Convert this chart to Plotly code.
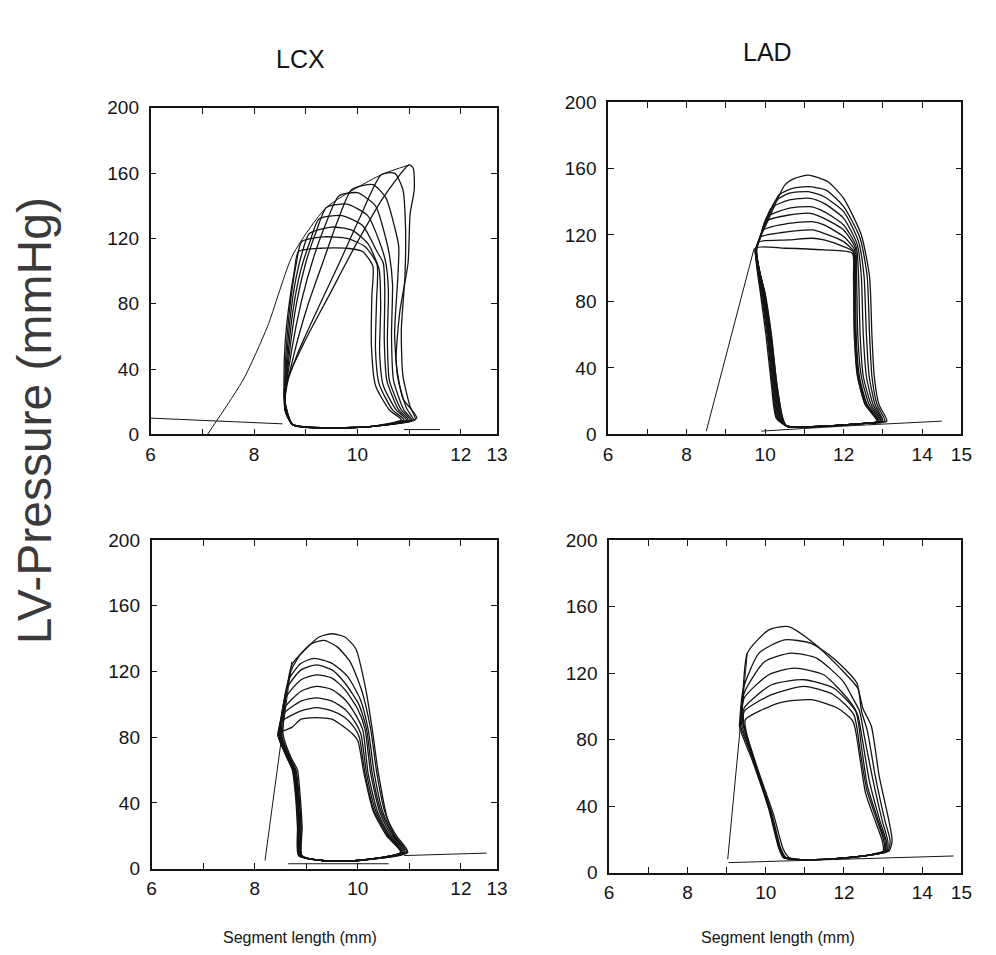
import plotly.graph_objects as go

# ---------------- DATA ----------------
# Top-left (LCX, upper) pressure-length loops
tl_loops_x = [
    [10.85,10.62,10.35,10.27,10.28,10.3,10.1,9.8,9.3,8.86,8.78,8.68,8.6,8.58,8.6,8.75,9.5,10.3,10.85],
    [10.9,10.68,10.42,10.35,10.37,10.38,10.15,9.8,9.35,8.92,8.82,8.72,8.64,8.6,8.6,8.75,9.5,10.3,10.9],
    [10.95,10.75,10.5,10.43,10.45,10.42,10.2,9.9,9.5,9.07,8.92,8.78,8.68,8.62,8.6,8.75,9.5,10.3,10.95],
    [10.98,10.8,10.57,10.52,10.53,10.5,10.38,10.1,9.7,9.26,9.08,8.9,8.75,8.65,8.6,8.75,9.5,10.3,10.98],
    [11.02,10.85,10.62,10.58,10.6,10.55,10.45,10.2,9.8,9.4,9.2,9.0,8.82,8.68,8.6,8.75,9.5,10.3,11.02],
    [11.05,10.9,10.7,10.66,10.68,10.62,10.55,10.35,10.0,9.64,9.4,9.15,8.92,8.72,8.6,8.75,9.5,10.3,11.05],
    [11.08,10.95,10.78,10.72,10.78,10.8,10.72,10.55,10.3,9.89,9.62,9.35,9.05,8.78,8.6,8.75,9.5,10.3,11.08],
    [11.12,11.02,10.88,10.85,10.92,10.93,10.88,10.72,10.46,10.05,9.65,9.25,8.85,8.58,8.75,9.5,10.3,11.12],
    [11.15,10.88,10.75,10.82,10.98,11.02,11.1,11.08,11.0,10.5,9.95,9.45,8.95,8.58,8.75,9.5,10.3,11.15],
]
tl_loops_y = [
    [9,15,30,55,85,103,112,114,114,112,100,80,55,30,15,6,4,5,9],
    [9,15,31,52,82,104,115,120,121,118,105,85,60,35,15,6,4,5,9],
    [9,15,30,50,78,101,117,125,127,123,110,90,65,38,15,6,4,5,9],
    [9,15,33,58,88,105,112,128,134,132,118,100,75,45,15,6,4,5,9],
    [9,15,33,58,88,105,116,134,141,139,124,105,80,48,17,6,4,5,9],
    [9,15,33,60,92,110,120,140,148,146,130,108,82,50,19,6,4,5,9],
    [9,16,35,62,95,115,127,145,153,150,131,107,80,50,21,6,4,5,9],
    [9,17,36,64,97,128,150,160,159,133,105,78,50,24,6,4,5,9],
    [10,22,45,75,105,135,150,163,165,145,115,85,55,27,6,4,5,10],
]
tl_espvr_x = [7.1, 7.8, 8.26, 8.75, 9.4, 10.46, 11.0]
tl_espvr_y = [0, 34, 66, 110, 139, 159, 165]
tl_edpvr_x = [6.0, 8.55]
tl_edpvr_y = [10, 6.5]
tl_base_x = [10.9, 11.6]
tl_base_y = [3, 3]

# Top-right (LAD, upper)
tr_loops_x = [
    [13.1,12.9,12.78,12.72,12.66,12.45,12.0,11.6,11.1,10.75,10.5,10.1,9.76,9.88,10.02,10.16,10.28,10.55,11.5,12.4,13.1],
    [13.05,12.85,12.72,12.66,12.6,12.42,12.0,11.55,11.1,10.7,10.35,10.0,9.76,9.9,10.05,10.18,10.3,10.55,11.5,12.4,13.05],
    [13.0,12.8,12.65,12.58,12.52,12.38,12.0,11.5,11.1,10.6,10.25,9.95,9.77,9.92,10.07,10.2,10.32,10.55,11.5,12.4,13.0],
    [12.98,12.75,12.58,12.5,12.45,12.35,12.0,11.5,11.15,10.6,10.15,9.92,9.78,9.93,10.09,10.22,10.34,10.55,11.5,12.4,12.98],
    [12.95,12.7,12.5,12.42,12.38,12.32,12.0,11.5,11.15,10.6,10.05,9.9,9.78,9.95,10.1,10.24,10.36,10.55,11.5,12.4,12.95],
    [12.93,12.65,12.45,12.36,12.33,12.3,12.0,11.5,11.15,10.6,10.0,9.88,9.78,9.96,10.12,10.26,10.38,10.55,11.5,12.4,12.93],
    [12.9,12.6,12.4,12.32,12.3,12.28,12.0,11.5,11.2,10.6,9.95,9.85,9.77,9.97,10.13,10.27,10.4,10.55,11.5,12.4,12.9],
    [12.88,12.58,12.38,12.3,12.28,12.26,12.0,11.5,11.2,10.6,9.9,9.82,9.76,9.98,10.14,10.28,10.42,10.55,11.5,12.4,12.88],
    [12.86,12.55,12.36,12.28,12.26,12.24,12.0,11.5,11.2,10.6,9.85,9.8,9.75,9.99,10.15,10.3,10.44,10.55,11.5,12.4,12.86],
    [12.85,12.55,12.35,12.27,12.25,12.22,11.5,10.5,9.75,10.0,10.16,10.3,10.45,10.55,11.5,12.4,12.85],
]
tr_loops_y = [
    [8,18,35,60,95,120,142,152,156,154,150,130,111,85,60,30,10,5,5,6.5,8],
    [8,18,35,60,95,118,137,147,149,148,144,126,111,85,60,30,10,5,5,6.5,8],
    [8,18,35,60,95,116,134,143,146,145,140,124,111,85,60,30,10,5,5,6.5,8],
    [8,18,35,60,95,114,130,139,142,141,136,122,111,85,60,30,10,5,5,6.5,8],
    [8,18,35,60,95,113,126,134,137,136,131,120,111,85,60,30,10,5,5,6.5,8],
    [8,18,35,60,95,112,123,130,133,132,128,119,111,85,60,30,10,5,5,6.5,8],
    [8,18,35,60,95,111,119,126,128,127,123,117,111,85,60,30,10,5,5,6.5,8],
    [8,18,35,60,95,110,116,121,123,122,119,115,111,85,60,30,10,5,5,6.5,8],
    [8,18,35,60,95,110,113,117,118,117,116,114,111,85,60,30,10,5,5,6.5,8],
    [8,18,35,60,95,109,111,112,112,85,60,30,10,5,5,6.5,8],
]
tr_espvr_x = [8.5, 9.72]
tr_espvr_y = [2, 112]
tr_edpvr_x = [9.9, 12.0, 14.5]
tr_edpvr_y = [2, 5, 8]

# Bottom-left (LCX, lower)
bl_loops_x = [
    [10.97,10.75,10.58,10.4,10.28,10.15,9.96,9.75,9.5,9.25,9.0,8.72,8.55,8.7,8.83,8.88,8.92,8.92,9.3,10.0,10.97],
    [10.95,10.72,10.52,10.37,10.25,10.08,9.85,9.6,9.35,9.1,8.9,8.7,8.52,8.68,8.8,8.86,8.9,8.9,9.3,10.0,10.95],
    [10.92,10.7,10.48,10.32,10.2,10.05,9.8,9.5,9.15,8.9,8.66,8.5,8.67,8.79,8.85,8.9,8.9,9.3,10.0,10.92],
    [10.9,10.68,10.45,10.28,10.17,10.02,9.75,9.5,9.2,8.9,8.63,8.5,8.66,8.78,8.84,8.88,8.9,9.3,10.0,10.9],
    [10.88,10.65,10.42,10.25,10.14,10.0,9.75,9.5,9.2,8.9,8.6,8.48,8.65,8.77,8.83,8.87,8.89,9.3,10.0,10.88],
    [10.86,10.62,10.38,10.2,10.1,9.97,9.75,9.5,9.2,8.9,8.58,8.47,8.64,8.76,8.82,8.86,8.88,9.3,10.0,10.86],
    [10.85,10.6,10.35,10.17,10.06,9.95,9.75,9.5,9.2,8.9,8.55,8.46,8.63,8.75,8.81,8.85,8.87,9.3,10.0,10.85],
    [10.84,10.58,10.32,10.14,10.03,9.93,9.75,9.5,9.2,8.9,8.54,8.45,8.62,8.74,8.8,8.84,8.86,9.3,10.0,10.84],
    [10.83,10.56,10.3,10.12,10.0,9.9,9.7,9.5,9.2,8.9,8.72,8.45,8.62,8.73,8.79,8.83,8.85,9.3,10.0,10.83],
]
bl_loops_y = [
    [10,20,30,58,85,110,134,141,143,141,134,124,82,68,60,45,25,8,5,5,10],
    [10,20,35,58,85,108,126,135,139,137,131,120,82,68,60,45,25,8,5,5,10],
    [10,20,35,58,85,103,117,125,128,125,115,82,68,60,45,25,8,5,5,10],
    [10,20,35,58,85,100,113,121,124,121,110,82,68,60,45,25,8,5,5,10],
    [10,20,35,58,85,97,109,116,118,115,104,82,68,60,45,25,8,5,5,10],
    [10,20,35,58,84,93,103,109,111,108,98,82,68,60,45,25,8,5,5,10],
    [10,20,35,58,82,89,97,102,104,102,94,82,68,60,45,25,8,5,5,10],
    [10,20,35,58,80,86,92,96,98,96,90,82,68,60,45,25,8,5,5,10],
    [10,20,35,58,78,82,87,91,92,91,86,82,68,60,45,25,8,5,5,10],
]
bl_espvr_x = [8.2, 8.72]
bl_espvr_y = [5, 126]
bl_edpvr_x = [10.9, 12.5]
bl_edpvr_y = [8, 9.5]
bl_base_x = [8.65, 10.6]
bl_base_y = [3, 3]

# Bottom-right (LAD, lower)
br_loops_x = [
    [13.15,13.23,13.15,12.9,12.7,12.48,12.35,11.9,11.23,10.58,10.08,9.53,9.4,9.33,9.65,10.08,10.33,10.45,10.75,11.5,12.5,13.15],
    [13.12,13.18,13.05,12.8,12.6,12.45,12.33,11.73,11.15,10.48,9.83,9.43,9.35,9.36,9.68,10.1,10.35,10.5,10.75,11.5,12.5,13.12],
    [13.1,13.12,12.98,12.72,12.52,12.4,12.2,11.98,11.3,10.65,9.98,9.45,9.38,9.65,10.08,10.33,10.47,10.75,11.5,12.5,13.1],
    [13.08,13.08,12.92,12.65,12.47,12.35,12.15,11.48,10.73,10.08,9.45,9.4,9.7,10.1,10.35,10.5,10.75,11.5,12.5,13.08],
    [13.05,13.05,12.88,12.6,12.45,12.3,11.73,10.98,10.15,9.45,9.42,9.72,10.12,10.36,10.5,10.75,11.5,12.5,13.05],
    [13.03,13.02,12.85,12.58,12.42,12.25,11.73,10.98,10.15,9.45,9.45,9.76,10.15,10.38,10.52,10.75,11.5,12.5,13.03],
    [13.0,12.98,12.8,12.55,12.4,12.23,11.83,11.15,10.33,9.48,9.5,9.8,10.2,10.45,10.6,10.8,11.5,12.5,13.0],
]
br_loops_y = [
    [13,19,31,58,88,99,111,123,138,148,146,132,100,88,68,38,15,9,8,8,10,13],
    [13,19,31,58,85,97,114,129,138,140,132,111,95,88,68,38,15,9,8,8,10,13],
    [13,19,31,58,82,97,106,115,129,132,127,108,90,70,40,16,9,8,8,10,13],
    [13,19,31,55,80,95,103,119,123,119,105,92,68,38,15,9,8,8,10,13],
    [13,19,31,52,75,97,111,116,113,99,90,66,37,15,9,8,8,10,13],
    [13,19,31,50,72,95,107,112,107,97,88,64,36,15,9,8,8,10,13],
    [13,19,31,48,70,91,99,104,102,92,85,62,35,14,9,8,8,10,13],
]
br_espvr_x = [9.03, 9.53]
br_espvr_y = [8, 132]
br_edpvr_x = [9.05, 14.8]
br_edpvr_y = [6, 10]

# Axis ticks
y_tickvals = [0, 40, 80, 120, 160, 200]
lcx_x_tickvals = [6, 7, 8, 9, 10, 11, 12, 12.7]
lcx_x_ticktext = ["6", "", "8", "", "10", "", "12", "13"]
lad_x_tickvals = [6, 7, 8, 9, 10, 11, 12, 13, 14, 15]
lad_x_ticktext = ["6", "", "8", "", "10", "", "12", "", "14", "15"]
lcx_x_range = [6, 12.7]
lad_x_range = [6, 15]

titles = ["LCX", "LAD"]
y_title = "LV-Pressure (mmHg)"
x_title = "Segment length (mm)"

# ---------------- FIGURE ----------------
W, H = 996, 955
INK = "#141414"
FONT = "Liberation Sans, Arial, Helvetica, sans-serif"

fig = go.Figure()

def add_line(xs, ys, ax, width=1.3, spline=True):
    fig.add_trace(go.Scatter(
        x=xs, y=ys, mode="lines",
        xaxis="x" + ax, yaxis="y" + ax,
        line=dict(color=INK, width=width,
                  shape="spline" if spline else "linear", smoothing=0.6),
        hoverinfo="skip", showlegend=False))

panels = [
    ("", tl_loops_x, tl_loops_y, [(tl_espvr_x, tl_espvr_y), (tl_edpvr_x, tl_edpvr_y), (tl_base_x, tl_base_y)]),
    ("2", tr_loops_x, tr_loops_y, [(tr_espvr_x, tr_espvr_y), (tr_edpvr_x, tr_edpvr_y)]),
    ("3", bl_loops_x, bl_loops_y, [(bl_espvr_x, bl_espvr_y), (bl_edpvr_x, bl_edpvr_y), (bl_base_x, bl_base_y)]),
    ("4", br_loops_x, br_loops_y, [(br_espvr_x, br_espvr_y), (br_edpvr_x, br_edpvr_y)]),
]
for ax, lx, ly, extras in panels:
    for xs, ys in zip(lx, ly):
        add_line(xs, ys, ax)
    for xs, ys in extras:
        add_line(xs, ys, ax, width=1.0)

# panel pixel boxes: (left, right, top, bottom)
boxes = {
    "": (148, 500, 100, 434),
    "2": (613, 972, 94, 434),
    "3": (149, 500, 542, 878),
    "4": (614, 972, 542, 882),
}

def xdom(l, r):
    return [l / W, r / W]

def ydom(t, b):
    return [1 - b / H, 1 - t / H]

axis_common = dict(
    showline=True, linecolor=INK, linewidth=1.7, mirror="allticks",
    ticks="inside", ticklen=6, tickwidth=1.3, tickcolor=INK,
    showgrid=False, zeroline=False,
    tickfont=dict(family=FONT, size=19, color=INK),
)
layout_axes = {}
for ax, (l, r, t, b) in boxes.items():
    is_lcx = ax in ("", "3")
    xname = "xaxis" + ax
    yname = "yaxis" + ax
    layout_axes[xname] = dict(
        axis_common, domain=xdom(l, r), anchor="y" + ax,
        range=lcx_x_range if is_lcx else lad_x_range,
        tickmode="array",
        tickvals=lcx_x_tickvals if is_lcx else lad_x_tickvals,
        ticktext=lcx_x_ticktext if is_lcx else lad_x_ticktext,
        ticklabelstandoff=2,
    )
    layout_axes[yname] = dict(
        axis_common, domain=ydom(t, b), anchor="x" + ax,
        range=[0, 200], tickmode="array", tickvals=y_tickvals,
        ticklabelstandoff=6,
    )

annotations = [
    dict(text=titles[0], x=300 / W, y=1 - 50 / H, xref="paper", yref="paper",
         showarrow=False, font=dict(family=FONT, size=25, color=INK),
         xanchor="center", yanchor="middle"),
    dict(text=titles[1], x=775 / W, y=1 - 43 / H, xref="paper", yref="paper",
         showarrow=False, font=dict(family=FONT, size=25, color=INK),
         xanchor="center", yanchor="middle"),
    dict(text=y_title, x=30 / W, y=1 - 420 / H, xref="paper", yref="paper",
         showarrow=False, textangle=-90,
         font=dict(family=FONT, size=48, color="#3a3a3a"),
         xanchor="center", yanchor="middle"),
    dict(text=x_title, x=300 / W, y=1 - 948 / H, xref="paper", yref="paper",
         showarrow=False, font=dict(family=FONT, size=16, color=INK),
         xanchor="center", yanchor="middle"),
    dict(text=x_title, x=786 / W, y=1 - 948 / H, xref="paper", yref="paper",
         showarrow=False, font=dict(family=FONT, size=16, color=INK),
         xanchor="center", yanchor="middle"),
]

fig.update_layout(
    width=W, height=H,
    margin=dict(l=0, r=0, t=0, b=0),
    paper_bgcolor="white", plot_bgcolor="white",
    showlegend=False,
    annotations=annotations,
    **layout_axes,
)

fig.write_html("out.html")
